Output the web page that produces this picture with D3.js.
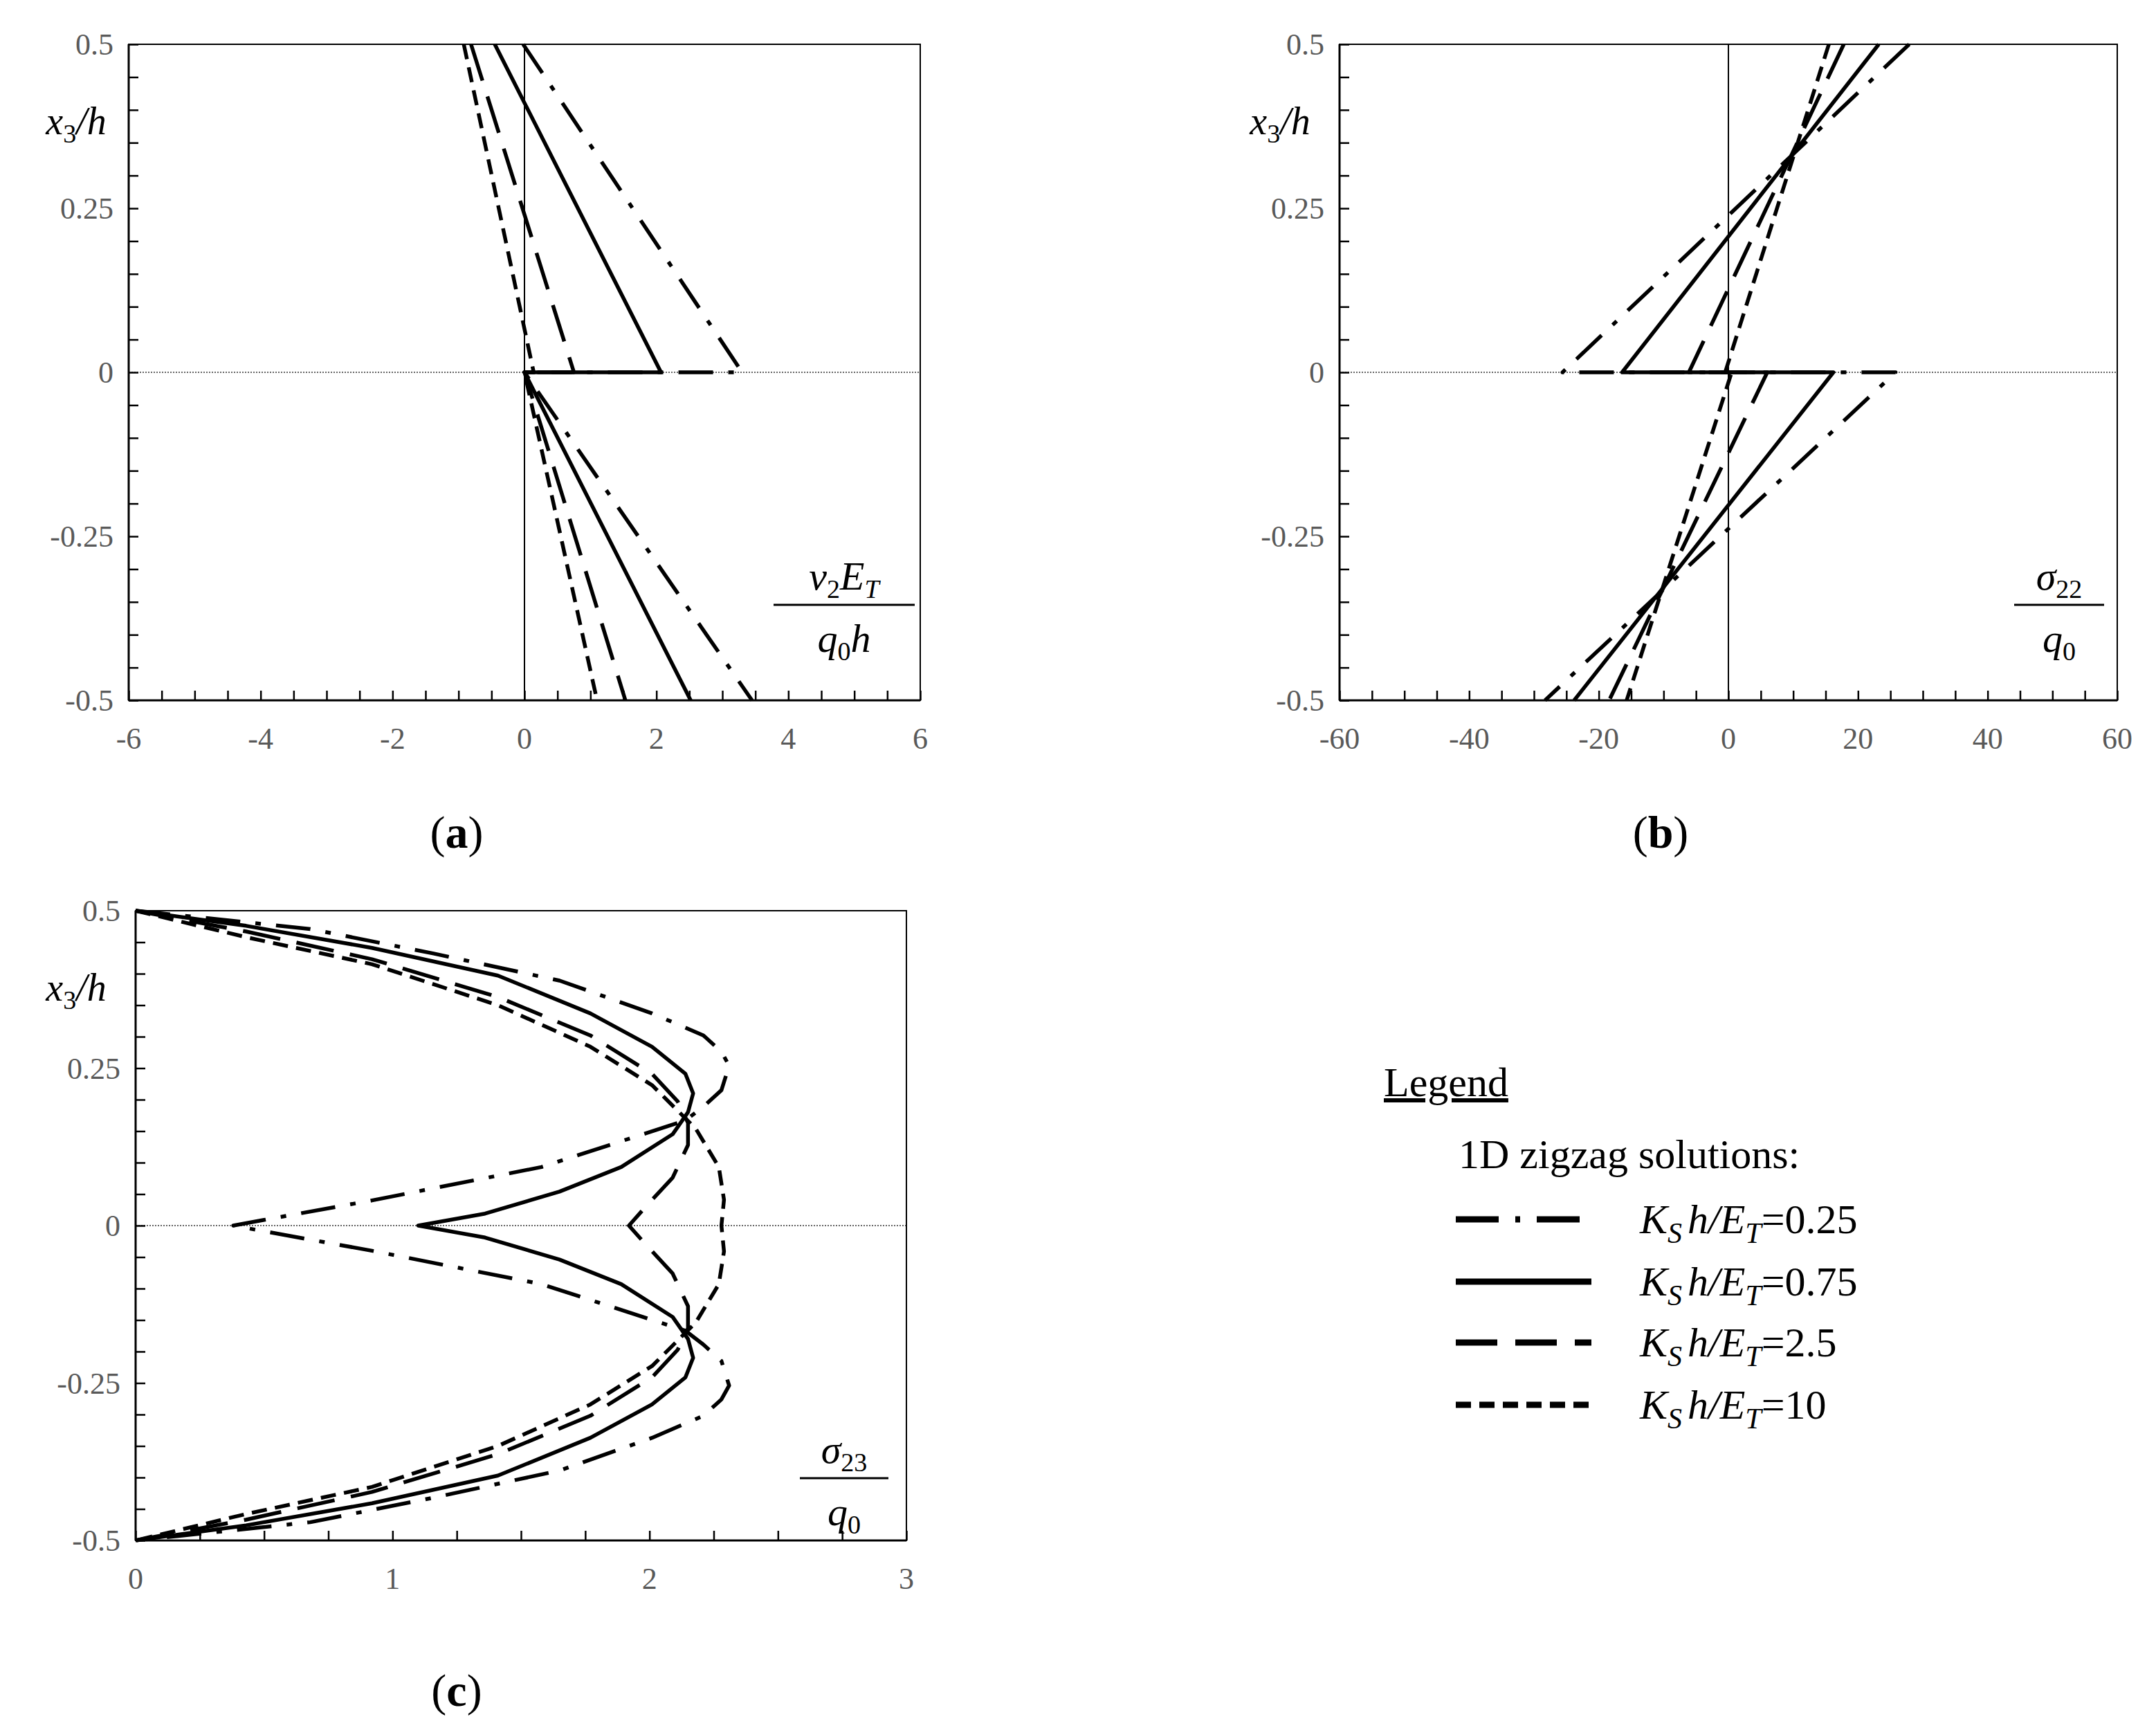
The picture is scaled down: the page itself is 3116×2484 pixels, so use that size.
<!DOCTYPE html>
<html><head><meta charset="utf-8">
<script src="https://cdn.jsdelivr.net/npm/d3@7"></script>
<style>body{margin:0;background:#fff}svg{display:block}text{font-family:"Liberation Serif","Times New Roman",serif}</style>
</head><body><svg id="c" width="3116" height="2484"></svg>
<script>
// ---------- data ----------
const seriesNames = ["0.25", "0.75", "2.5", "10"];
// panel (a): v2 E_T/(q0 h) vs x3/h   [x, y]
const aDashDot = [[-0.02,0.5],[3.3,0],[0,0],[3.45,-0.5]];
const aSolid   = [[-0.45,0.5],[2.07,0],[0,0],[2.52,-0.5]];
const aDashed  = [[-0.81,0.5],[0.75,0],[0,0],[1.53,-0.5]];
const aDotted  = [[-0.92,0.5],[0.14,0],[0,0],[1.1,-0.5]];
// panel (b): sigma22/q0
const bDashDot = [[27.9,0.5],[-25.6,0],[25.8,0],[-28.3,-0.5]];
const bSolid   = [[23.2,0.5],[-16.4,0],[16.2,0],[-23.8,-0.5]];
const bDashed  = [[17.8,0.5],[-6.1,0],[6.0,0],[-18.4,-0.5]];
const bDotted  = [[15.5,0.5],[-0.5,0],[0.5,0],[-15.7,-0.5]];
// panel (c): sigma23/q0
const cDashDot = [[0,0.5],[0.68,0.471],[1.16,0.432],[1.65,0.389],[2.01,0.337],[2.21,0.302],[2.28,0.276],[2.31,0.254],[2.28,0.215],[2.21,0.189],[2.14,0.167],[1.58,0.093],[0.92,0.04],[0.5,0.009],[0.38,0],
  [0.5,-0.009],[0.92,-0.04],[1.58,-0.093],[2.14,-0.167],[2.21,-0.189],[2.28,-0.215],[2.31,-0.254],[2.28,-0.276],[2.21,-0.302],[2.01,-0.337],[1.65,-0.389],[1.16,-0.432],[0.68,-0.471],[0,-0.5]];
const cSolid = [[0,0.5],[0.43,0.476],[0.92,0.441],[1.41,0.397],[1.77,0.337],[2.01,0.284],[2.14,0.241],[2.17,0.21],[2.15,0.18],[2.09,0.145],[1.89,0.093],[1.65,0.054],[1.36,0.019],[1.1,0],
  [1.36,-0.019],[1.65,-0.054],[1.89,-0.093],[2.09,-0.145],[2.15,-0.18],[2.17,-0.21],[2.14,-0.241],[2.01,-0.284],[1.77,-0.337],[1.41,-0.397],[0.92,-0.441],[0.43,-0.476],[0,-0.5]];
const cDashed = [[0,0.5],[0.43,0.467],[0.92,0.423],[1.41,0.363],[1.77,0.302],[2.01,0.241],[2.11,0.197],[2.15,0.163],[2.15,0.128],[2.09,0.076],[1.99,0.032],[1.92,0],
  [1.99,-0.032],[2.09,-0.076],[2.15,-0.128],[2.15,-0.163],[2.11,-0.197],[2.01,-0.241],[1.77,-0.302],[1.41,-0.363],[0.92,-0.423],[0.43,-0.467],[0,-0.5]];
const cDotted = [[0,0.5],[0.43,0.458],[0.92,0.415],[1.41,0.35],[1.77,0.284],[2.01,0.223],[2.18,0.154],[2.27,0.093],[2.29,0.041],[2.28,0],
  [2.29,-0.041],[2.27,-0.093],[2.18,-0.154],[2.01,-0.223],[1.77,-0.284],[1.41,-0.35],[0.92,-0.415],[0.43,-0.458],[0,-0.5]];
const yTicks = [-0.5,-0.25,0,0.25,0.5];
const aXTicks = [-6,-4,-2,0,2,4,6];
const bXTicks = [-60,-40,-20,0,20,40,60];
const cXTicks = [0,1,2,3];

// ---------- styles ----------
const dashes = ["50,22,8,22", null, "55,24", "22,12"];
const svg = d3.select("#c");
const GRAY = "#595959";

function panel(o){
  const x = d3.scaleLinear().domain(o.xd).range([o.L,o.R]);
  const y = d3.scaleLinear().domain([-0.5,0.5]).range([o.B,o.T]);
  const g = svg.append("g");
  // zero lines
  g.append("line").attr("x1",o.L).attr("x2",o.R).attr("y1",y(0)).attr("y2",y(0))
    .attr("stroke","#333").attr("stroke-width",1.5).attr("stroke-dasharray","2,2");
  if (o.xd[0] < 0) g.append("line").attr("x1",x(0)).attr("x2",x(0)).attr("y1",o.T).attr("y2",o.B)
    .attr("stroke","#000").attr("stroke-width",2);
  // frame
  g.append("rect").attr("x",o.L).attr("y",o.T).attr("width",o.R-o.L).attr("height",o.B-o.T)
    .attr("fill","none").attr("stroke","#000").attr("stroke-width",2);
  g.append("line").attr("x1",o.L).attr("x2",o.L).attr("y1",o.T).attr("y2",o.B).attr("stroke","#000").attr("stroke-width",3);
  g.append("line").attr("x1",o.L).attr("x2",o.R).attr("y1",o.B).attr("y2",o.B).attr("stroke","#000").attr("stroke-width",3);
  // axes
  const yAx = d3.axisLeft(y).tickValues(d3.range(-0.5,0.5001,0.05)).tickSize(-14).tickFormat("");
  g.append("g").attr("transform",`translate(${o.L},0)`).call(yAx).call(s=>{s.select(".domain").remove();s.selectAll("line").attr("stroke-width",2.5);});
  const xAx = d3.axisBottom(x).tickValues(d3.range(o.xd[0],o.xd[1]+1e-9,o.minor)).tickSize(-14).tickFormat("");
  g.append("g").attr("transform",`translate(0,${o.B})`).call(xAx).call(s=>{s.select(".domain").remove();s.selectAll("line").attr("stroke-width",2.5);});
  // labels
  g.selectAll(".yl").data(yTicks).enter().append("text").attr("x",o.L-22).attr("y",d=>y(d)+15)
    .attr("text-anchor","end").attr("font-size",44).attr("fill",GRAY).text(d=>d===0?"0":String(d).replace("0.",d<0?"0.":"0."));
  g.selectAll(".xl").data(o.xt).enter().append("text").attr("x",d=>x(d)).attr("y",o.B+70)
    .attr("text-anchor","middle").attr("font-size",44).attr("fill",GRAY).text(d=>d);
  // x3/h label
  const t = g.append("text").attr("x",o.yLx).attr("y",o.T+130).attr("font-size",56).attr("text-anchor","middle");
  t.append("tspan").attr("font-style","italic").text("x");
  t.append("tspan").attr("font-size",38).attr("dy",12).text("3");
  t.append("tspan").attr("dy",-12).attr("font-style","italic").text("/h");
  // lines
  const line = d3.line().x(d=>x(d[0])).y(d=>y(d[1]));
  o.series.forEach((s,i)=>{
    g.append("path").datum(s).attr("d",line).attr("fill","none").attr("stroke","#000")
      .attr("stroke-width",5.5).attr("stroke-dasharray",dashes[i]).attr("stroke-linejoin","round");
  });
  // fraction label
  const f = g.append("g").attr("transform",`translate(${o.fx},${o.fy})`);
  f.append("line").attr("x1",-o.fw/2).attr("x2",o.fw/2).attr("stroke","#000").attr("stroke-width",3);
  const num = f.append("text").attr("y",-22).attr("text-anchor","middle").attr("font-size",58);
  o.num(num);
  const den = f.append("text").attr("y",68).attr("text-anchor","middle").attr("font-size",58);
  o.den(den);
  // panel letter
  const pl = svg.append("text").attr("x",o.plx).attr("y",o.ply).attr("text-anchor","middle").attr("font-size",66);
  pl.append("tspan").text("(");
  pl.append("tspan").attr("font-weight","bold").text(o.letter);
  pl.append("tspan").text(")");
}
function sub(t,base,s,italicBase){
  t.append("tspan").attr("font-style",italicBase?"italic":null).text(base);
  t.append("tspan").attr("font-size",38).attr("dy",12).text(s);
  return t.append("tspan").attr("dy",-12);
}

panel({L:186,R:1330,T:64,B:1012,xd:[-6,6],minor:0.5,xt:aXTicks,yLx:110,
  series:[aDashDot,aSolid,aDashed,aDotted],fx:1220,fy:874,fw:204,
  num:t=>{t.append("tspan").attr("font-style","italic").text("v");t.append("tspan").attr("font-size",38).attr("dy",12).text("2");
    t.append("tspan").attr("dy",-12).attr("font-style","italic").text("E");t.append("tspan").attr("font-size",38).attr("dy",12).attr("font-style","italic").text("T");},
  den:t=>{t.append("tspan").attr("font-style","italic").text("q");t.append("tspan").attr("font-size",38).attr("dy",12).text("0");
    t.append("tspan").attr("dy",-12).attr("font-style","italic").text("h");},
  letter:"a",plx:660,ply:1225});
panel({L:1936,R:3060,T:64,B:1012,xd:[-60,60],minor:5,xt:bXTicks,yLx:1850,
  series:[bDashDot,bSolid,bDashed,bDotted],fx:2976,fy:874,fw:130,
  num:t=>{t.append("tspan").attr("font-style","italic").text("σ");t.append("tspan").attr("font-size",38).attr("dy",12).text("22");},
  den:t=>{t.append("tspan").attr("font-style","italic").text("q");t.append("tspan").attr("font-size",38).attr("dy",12).text("0");},
  letter:"b",plx:2400,ply:1225});
panel({L:196,R:1310,T:1316,B:2226,xd:[0,3],minor:0.25,xt:cXTicks,yLx:110,
  series:[cDashDot,cSolid,cDashed,cDotted],fx:1220,fy:2136,fw:128,
  num:t=>{t.append("tspan").attr("font-style","italic").text("σ");t.append("tspan").attr("font-size",38).attr("dy",12).text("23");},
  den:t=>{t.append("tspan").attr("font-style","italic").text("q");t.append("tspan").attr("font-size",38).attr("dy",12).text("0");},
  letter:"c",plx:660,ply:2465});

// ---------- legend ----------
const lg = svg.append("g");
lg.append("text").attr("x",2000).attr("y",1584).attr("font-size",60).attr("text-decoration","underline").text("Legend");
lg.append("text").attr("x",2108).attr("y",1688).attr("font-size",60).text("1D zigzag solutions:");
const rowsY = [1762,1852,1940,2030];
seriesNames.forEach((n,i)=>{
  lg.append("line").attr("x1",2104).attr("x2",2300).attr("y1",rowsY[i]).attr("y2",rowsY[i])
    .attr("stroke","#000").attr("stroke-width",9).attr("stroke-dasharray",i===0?"62,24,7,24":i===2?"60,26":i===3?"22,12":null);
  const t = lg.append("text").attr("x",2370).attr("y",rowsY[i]+20).attr("font-size",60).attr("font-style","italic");
  t.append("tspan").text("K");
  t.append("tspan").attr("font-size",42).attr("dy",14).text("S");
  t.append("tspan").attr("dy",-14).attr("dx",8).text("h/E");
  t.append("tspan").attr("font-size",42).attr("dy",14).text("T");
  t.append("tspan").attr("dy",-14).attr("font-style","normal").text("="+n);
});
</script></body></html>
